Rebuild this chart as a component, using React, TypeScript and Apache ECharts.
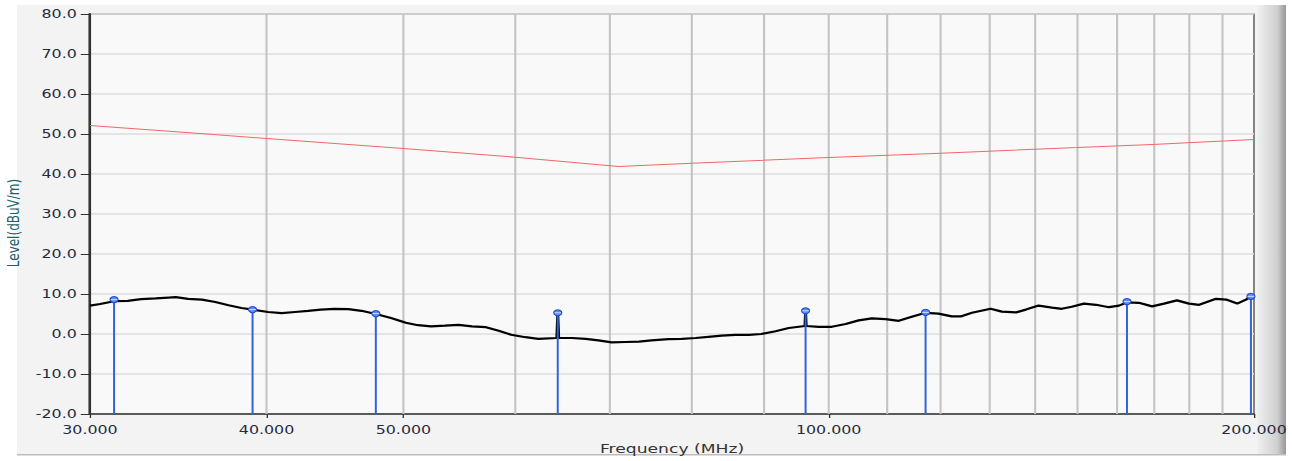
import React, { useEffect, useRef } from "react";
import * as echarts from "echarts";

// The reference is a horizontally stretched screenshot; reproduce the stretch.
const STRETCH = 1.32;
const CHART_W = Math.round(1292 / STRETCH);
const CHART_H = 461;

// Axis definitions
const xTickLabels = [30, 40, 50, 100, 200];
const xGridFreqs = [40, 50, 60, 70, 80, 90, 100, 110, 120, 130, 140, 150, 160, 170, 180, 190];
const xMinFreq = 30;
const xMaxFreq = 200;
const yMin = -20;
const yMax = 80;
const yStep = 10;

// Limit line (red)
const limitFreqs = [30, 35.9, 40, 50, 60, 71, 80, 100, 120, 150, 169.4, 200];
const limitLevels = [52.1, 50.1, 48.9, 46.4, 44.2, 41.9, 42.7, 44.1, 45.2, 46.6, 47.4, 48.6];

// Measured trace (black)
const traceFreqs = [
  30.0, 30.5, 31.2, 31.9, 32.6, 33.4, 34.1, 34.5, 35.2, 36.0, 36.8, 37.6, 38.4, 39.1,
  40.1, 41.0, 41.9, 42.8, 43.7, 44.7, 45.7, 46.7, 47.8, 49.0, 50.2, 51.2, 52.3, 53.5,
  54.7, 55.9, 57.2, 58.4, 59.6, 61.0, 62.3, 64.2, 64.3, 64.4, 65.8, 67.3, 68.7, 70.2,
  71.8, 73.4, 74.9, 77.0, 78.7, 80.5, 82.2, 84.0, 85.9, 87.8, 89.6, 91.7, 93.7, 96.2,
  96.3, 96.4, 98.4, 100.5, 102.8, 105.0, 107.3, 109.7, 112.1, 114.5, 117.1, 119.6, 122.2,
  124.0, 126.3, 130.2, 132.6, 135.7, 137.9, 140.8, 143.9, 146.2, 148.6, 151.6, 154.6,
  157.9, 160.5, 162.6, 165.8, 169.4, 172.7, 176.4, 179.9, 182.9, 188.0, 191.1, 194.6,
  197.4, 199.0, 200.0,
];
const traceLevels = [
  7.1, 7.5, 8.2, 8.3, 8.7, 8.9, 9.1, 9.2, 8.8, 8.6, 8.0, 7.2, 6.5, 6.1,
  5.5, 5.2, 5.5, 5.8, 6.1, 6.3, 6.2, 5.8, 5.0, 4.0, 2.8, 2.2, 1.9, 2.1,
  2.3, 1.9, 1.7, 0.8, -0.2, -0.8, -1.2, -1.0, 5.2, -1.0, -1.0, -1.2, -1.6, -2.1,
  -2.0, -1.9, -1.6, -1.3, -1.2, -1.0, -0.7, -0.4, -0.2, -0.2, 0.0, 0.7, 1.5, 2.0,
  5.8, 2.0, 1.8, 1.8, 2.5, 3.4, 3.9, 3.7, 3.3, 4.3, 5.3, 5.1, 4.4,
  4.4, 5.3, 6.3, 5.6, 5.4, 6.1, 7.1, 6.6, 6.3, 6.8, 7.6, 7.3,
  6.7, 7.1, 7.9, 7.8, 6.9, 7.6, 8.4, 7.6, 7.3, 8.8, 8.6, 7.6,
  8.6, 9.4, 9.3,
];

// Peak markers (blue stems)
const markerFreqs = [31.2, 39.1, 47.8, 64.3, 96.3, 117.1, 162.6, 199.0];
const markerLevels = [8.6, 6.1, 5.1, 5.3, 5.8, 5.4, 8.1, 9.4];

const FONT = "DejaVu Sans";
const lg = (f: number) => Math.log10(f);

export default function App() {
  const ref = useRef<HTMLDivElement>(null);

  useEffect(() => {
    const chart = echarts.init(ref.current!, null, { renderer: "svg" });
    const S = STRETCH;
    const xTickVals = xTickLabels.map(lg);

    const option: any = {
      animation: false,
      backgroundColor: "transparent",
      grid: {
        left: 90 / S,
        right: CHART_W - 1254 / S,
        top: 14,
        bottom: CHART_H - 414,
        show: true,
        backgroundColor: "#f9f9f9",
        borderColor: "#4a4a4a",
        borderWidth: 1,
      },
      xAxis: {
        type: "value",
        min: lg(xMinFreq),
        max: lg(xMaxFreq),
        axisLine: { show: true, onZero: false, lineStyle: { color: "#333333", width: 1.5 } },
        axisTick: {
          show: true,
          customValues: xTickVals,
          length: 4,
          lineStyle: { color: "#333333", width: 1 },
        },
        axisLabel: {
          customValues: xTickVals,
          formatter: (v: number) => Math.pow(10, v).toFixed(3),
          color: "#262a3e",
          fontFamily: FONT,
          fontSize: 12,
          margin: 10,
        },
        splitLine: { show: false },
        name: "Frequency (MHz)",
        nameLocation: "middle",
        nameGap: 28,
        nameTextStyle: { color: "#333333", fontFamily: FONT, fontSize: 13 },
      },
      yAxis: {
        type: "value",
        min: yMin,
        max: yMax,
        interval: yStep,
        axisLine: { show: true, onZero: false, lineStyle: { color: "#333333", width: 2 } },
        axisTick: { show: true, length: 7, lineStyle: { color: "#333333", width: 1 } },
        axisLabel: {
          formatter: (v: number) => v.toFixed(1),
          color: "#262a3e",
          fontFamily: FONT,
          fontSize: 12,
          margin: 10,
        },
        splitLine: { show: true, lineStyle: { color: "#dcdcdc", width: 1.5 } },
      },
      graphic: [
        {
          type: "rect",
          z: -100,
          silent: true,
          shape: { x: 17 / S, y: 5, width: (1257 - 17) / S, height: 450 },
          style: { fill: "#f3f3f3" },
        },
        {
          type: "rect",
          z: -100,
          silent: true,
          shape: { x: 1257 / S, y: 5, width: 29 / S, height: 450 },
          style: {
            fill: new echarts.graphic.LinearGradient(0, 0, 1, 0, [
              { offset: 0, color: "#f0f0f0" },
              { offset: 0.7, color: "#cfcfcf" },
              { offset: 1, color: "#969696" },
            ]),
          },
        },
        {
          type: "rect",
          z: -99,
          silent: true,
          shape: { x: 17 / S, y: 454, width: (1286 - 17) / S, height: 1.5 },
          style: { fill: "#bdbdbd" },
        },
        {
          type: "text",
          z: 100,
          x: 13 / S,
          y: 223,
          rotation: Math.PI / 2,
          style: {
            text: "Level(dBuV/m)",
            fill: "#1e5f6b",
            font: `12px "${FONT}"`,
            align: "center",
            verticalAlign: "middle",
            textAlign: "center",
            textVerticalAlign: "middle",
          },
        },
      ],
      series: [
        {
          type: "custom",
          name: "vgrid",
          silent: true,
          z: 1,
          data: xGridFreqs.map((f) => [lg(f), yMin]),
          encode: { x: 0, y: 1 },
          renderItem: (_p: any, api: any) => {
            const x = api.value(0);
            const a = api.coord([x, yMin]);
            const b = api.coord([x, yMax]);
            return {
              type: "line",
              shape: { x1: a[0], y1: a[1], x2: b[0], y2: b[1] },
              style: { stroke: "#c4c4c4", lineWidth: 1.6 },
            };
          },
        },
        {
          type: "line",
          name: "Limit",
          z: 2,
          silent: true,
          showSymbol: false,
          data: limitFreqs.map((f, i) => [lg(f), limitLevels[i]]),
          lineStyle: { color: "#f06868", width: 1 },
        },
        {
          type: "line",
          name: "Trace",
          z: 3,
          silent: true,
          showSymbol: false,
          data: traceFreqs.map((f, i) => [lg(f), traceLevels[i]]),
          lineStyle: { color: "#000000", width: 2.2 },
        },
        {
          type: "custom",
          name: "Peaks",
          z: 4,
          silent: true,
          data: markerFreqs.map((f, i) => [lg(f), markerLevels[i]]),
          encode: { x: 0, y: 1 },
          renderItem: (_p: any, api: any) => {
            const x = api.value(0);
            const v = api.value(1);
            const top = api.coord([x, v]);
            const bot = api.coord([x, yMin]);
            return {
              type: "group",
              children: [
                {
                  type: "line",
                  shape: { x1: top[0], y1: top[1], x2: bot[0], y2: bot[1] },
                  style: { stroke: "#2f62dc", lineWidth: 1.5 },
                },
                {
                  type: "circle",
                  shape: { cx: top[0], cy: top[1], r: 3 },
                  style: { fill: "#5d8cf0", stroke: "#1f4fcf", lineWidth: 1 },
                },
                {
                  type: "line",
                  shape: { x1: top[0] - 2.5, y1: top[1], x2: top[0] + 2.5, y2: top[1] },
                  style: { stroke: "#e8f0ff", lineWidth: 0.7 },
                },
              ],
            };
          },
        },
      ],
    };

    chart.setOption(option);
    return () => chart.dispose();
  }, []);

  return (
    <div
      style={{
        position: "fixed",
        left: 0,
        top: 0,
        width: 1292,
        height: 461,
        overflow: "hidden",
        background: "#ffffff",
      }}
    >
      <div
        ref={ref}
        style={{
          width: CHART_W,
          height: CHART_H,
          transform: `scaleX(${STRETCH})`,
          transformOrigin: "0 0",
        }}
      />
    </div>
  );
}
